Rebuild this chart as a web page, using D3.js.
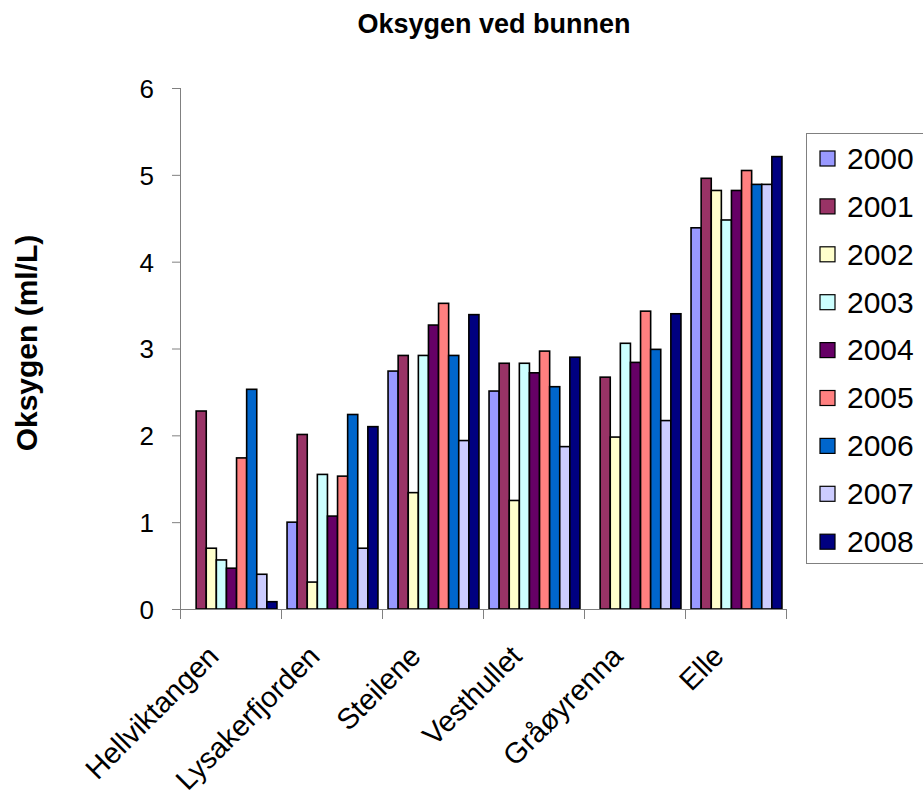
<!DOCTYPE html>
<html>
<head>
<meta charset="utf-8">
<script src="https://cdn.jsdelivr.net/npm/d3@7"></script>
<style>
  body { margin: 0; background: #fff; overflow: hidden; }
  svg text { font-family: Arial, "Liberation Sans", sans-serif; fill: #000; }
</style>
</head>
<body>
<div id="chart"></div>
<script>
const stations = ['Hellviktangen', 'Lysakerfjorden', 'Steilene', 'Vesthullet', 'Gråøyrenna', 'Elle'];
const years = ['2000', '2001', '2002', '2003', '2004', '2005', '2006', '2007', '2008'];
const colors = ['#9999ff', '#993366', '#ffffcc', '#ccffff', '#660066', '#ff8080', '#0066cc', '#ccccff', '#000080'];

// one array per year, values per station (null = no measurement)
const v2000 = [null, 1.0, 2.74, 2.51, null, 4.39];
const v2001 = [2.28, 2.01, 2.92, 2.83, 2.67, 4.96];
const v2002 = [0.70, 0.31, 1.34, 1.25, 1.98, 4.82];
const v2003 = [0.565, 1.55, 2.92, 2.83, 3.06, 4.48];
const v2004 = [0.47, 1.07, 3.27, 2.72, 2.84, 4.82];
const v2005 = [1.74, 1.53, 3.52, 2.97, 3.43, 5.05];
const v2006 = [2.53, 2.24, 2.92, 2.56, 2.99, 4.89];
const v2007 = [0.40, 0.70, 1.94, 1.87, 2.17, 4.89];
const v2008 = [0.084, 2.10, 3.39, 2.90, 3.40, 5.21];
const series = [v2000, v2001, v2002, v2003, v2004, v2005, v2006, v2007, v2008];
const yTicks = [0, 1, 2, 3, 4, 5, 6];

const width = 923;
const height = 801;
const plot = { left: 181, right: 787, top: 88, bottom: 609 };

const svg = d3.select('#chart').append('svg')
  .attr('width', width)
  .attr('height', height);

const x = d3.scaleBand()
  .domain(stations)
  .range([plot.left, plot.right]);

const xInner = d3.scaleBand()
  .domain(years)
  .range([0, x.bandwidth()])
  .paddingOuter(0.5);

const y = d3.scaleLinear()
  .domain([0, 6])
  .range([plot.bottom, plot.top]);

// title
svg.append('text')
  .attr('x', 494)
  .attr('y', 33)
  .attr('text-anchor', 'middle')
  .style('font-size', '27px')
  .style('font-weight', 'bold')
  .text('Oksygen ved bunnen');

// y axis title
svg.append('text')
  .attr('transform', 'translate(37, 343) rotate(-90)')
  .attr('text-anchor', 'middle')
  .style('font-size', '30px')
  .style('font-weight', 'bold')
  .text('Oksygen (ml/L)');

// bars
const rows = [];
stations.forEach((s, i) => {
  years.forEach((yr, j) => {
    const val = series[j][i];
    if (val != null) rows.push({ station: s, year: yr, value: val, color: colors[j] });
  });
});

svg.append('g')
  .selectAll('rect')
  .data(rows)
  .join('rect')
  .attr('x', (d) => x(d.station) + xInner(d.year))
  .attr('y', (d) => y(d.value))
  .attr('width', xInner.bandwidth())
  .attr('height', (d) => y(0) - y(d.value))
  .attr('fill', (d) => d.color)
  .attr('stroke', '#000')
  .attr('stroke-width', 1.6);

// y axis
const yAxis = svg.append('g')
  .attr('transform', `translate(${plot.left},0)`)
  .call(d3.axisLeft(y).tickValues(yTicks).tickSize(9).tickPadding(18).tickFormat(d3.format('d')));
yAxis.select('.domain').attr('stroke', '#808080').attr('d', `M-0.5,${plot.top}V${plot.bottom + 10}`);
yAxis.selectAll('.tick line').attr('stroke', '#808080');
yAxis.selectAll('.tick text').style('font-size', '26px').attr('dy', '0.36em');

// x axis
const xTickPos = stations.map((s) => x(s)).concat([plot.right]);
const xAxis = svg.append('g');
xAxis.append('line')
  .attr('x1', plot.left).attr('x2', plot.right)
  .attr('y1', plot.bottom + 0.5).attr('y2', plot.bottom + 0.5)
  .attr('stroke', '#808080');
xAxis.selectAll('line.tick')
  .data(xTickPos)
  .join('line')
  .attr('class', 'tick')
  .attr('x1', (d) => d - 0.5).attr('x2', (d) => d - 0.5)
  .attr('y1', plot.bottom).attr('y2', plot.bottom + 10)
  .attr('stroke', '#808080');
xAxis.selectAll('text')
  .data(stations)
  .join('text')
  .attr('transform', (d) => `translate(${x(d) + x.bandwidth() / 2 - 11}, 658) rotate(-45)`)
  .attr('text-anchor', 'end')
  .style('font-size', '29px')
  .text((d) => d);

// legend
const legend = svg.append('g');
legend.append('rect')
  .attr('x', 806.5).attr('y', 133.5)
  .attr('width', 130).attr('height', 430)
  .attr('fill', '#fff')
  .attr('stroke', '#808080');

const items = legend.selectAll('g.item')
  .data(years)
  .join('g')
  .attr('class', 'item')
  .attr('transform', (d, i) => `translate(820, ${158 + i * 47.9})`);
items.append('rect')
  .attr('x', 0).attr('y', -7)
  .attr('width', 15).attr('height', 15)
  .attr('fill', (d, i) => colors[i])
  .attr('stroke', '#000')
  .attr('stroke-width', 1.2);
items.append('text')
  .attr('x', 27).attr('y', 0)
  .attr('dy', '0.36em')
  .style('font-size', '30px')
  .text((d) => d);
</script>
</body>
</html>
